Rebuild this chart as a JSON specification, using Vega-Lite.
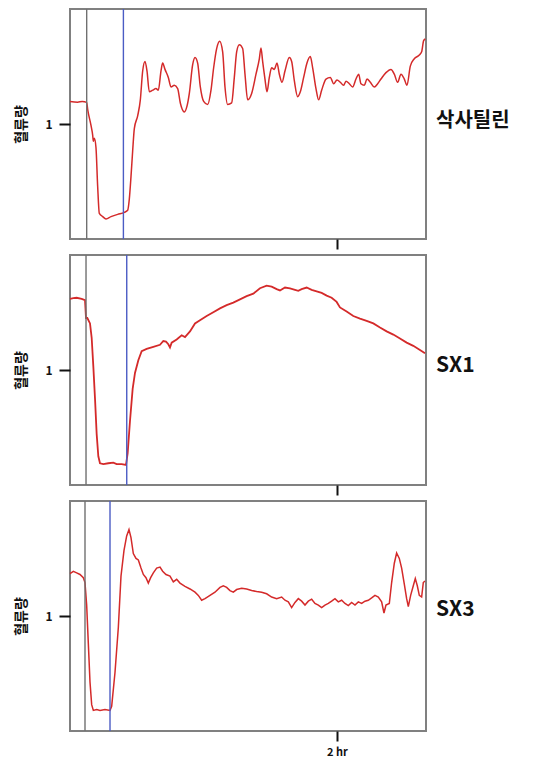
{
  "$schema": "https://vega.github.io/schema/vega-lite/v6.json",
  "background": "white",
  "padding": {"top": 7, "left": 13, "right": 5, "bottom": 5},
  "config": {
    "font": "Noto Sans CJK KR",
    "view": {"stroke": "#808080", "strokeWidth": 2},
    "concat": {"spacing": 2},
    "axis": {"grid": false, "domain": false, "tickColor": "#111111", "tickWidth": 2}
  },
  "vconcat": [
    {
      "width": 356, "height": 230,
      "layer": [
        {
          "data": {"values": [
            {"t":0,"v":1.196},{"t":3.45,"v":1.19},{"t":5.5,"v":1.196},{"t":7.49,"v":1.188},{"t":7.94,"v":1.127},{"t":9.44,"v":0.988},{"t":10.19,"v":0.904},{"t":10.49,"v":0.849},{"t":10.94,"v":0.876},{"t":11.68,"v":0.793},{"t":12.43,"v":0.459},{"t":13.18,"v":0.222},{"t":14.68,"v":0.195},{"t":16.18,"v":0.175},{"t":18.43,"v":0.195},{"t":21.42,"v":0.214},{"t":24.42,"v":0.231},{"t":25.92,"v":0.25},{"t":26.66,"v":0.348},{"t":27.41,"v":0.542},{"t":28.16,"v":0.765},{"t":28.91,"v":0.96},{"t":30.41,"v":1.071},{"t":31.61,"v":1.21},{"t":32.66,"v":1.461},{"t":33.71,"v":1.544},{"t":34.6,"v":1.461},{"t":35.65,"v":1.28},{"t":37.15,"v":1.294},{"t":38.65,"v":1.308},{"t":39.7,"v":1.294},{"t":40.9,"v":1.461},{"t":41.64,"v":1.53},{"t":42.69,"v":1.475},{"t":44.19,"v":1.405},{"t":45.39,"v":1.322},{"t":46.89,"v":1.336},{"t":48.39,"v":1.308},{"t":49.58,"v":1.183},{"t":51.38,"v":1.105},{"t":52.58,"v":1.155},{"t":53.63,"v":1.266},{"t":55.13,"v":1.516},{"t":56.18,"v":1.578},{"t":57.37,"v":1.53},{"t":58.57,"v":1.322},{"t":60.07,"v":1.196},{"t":61.87,"v":1.169},{"t":63.37,"v":1.294},{"t":64.56,"v":1.489},{"t":65.91,"v":1.656},{"t":67.26,"v":1.72},{"t":68.61,"v":1.628},{"t":69.66,"v":1.322},{"t":70.86,"v":1.169},{"t":72.65,"v":1.183},{"t":73.85,"v":1.405},{"t":74.9,"v":1.628},{"t":76.1,"v":1.689},{"t":77.6,"v":1.656},{"t":78.65,"v":1.433},{"t":79.84,"v":1.21},{"t":81.64,"v":1.266},{"t":83.59,"v":1.433},{"t":85.09,"v":1.567},{"t":85.84,"v":1.661},{"t":86.58,"v":1.544},{"t":87.63,"v":1.391},{"t":88.53,"v":1.28},{"t":89.58,"v":1.405},{"t":90.63,"v":1.489},{"t":91.83,"v":1.475},{"t":93.03,"v":1.53},{"t":94.08,"v":1.433},{"t":95.27,"v":1.363},{"t":96.62,"v":1.461},{"t":98.57,"v":1.578},{"t":99.62,"v":1.544},{"t":100.82,"v":1.377},{"t":102.32,"v":1.238},{"t":103.51,"v":1.28},{"t":105.01,"v":1.405},{"t":106.51,"v":1.53},{"t":108.01,"v":1.586},{"t":109.06,"v":1.489},{"t":110.55,"v":1.308},{"t":111.75,"v":1.21},{"t":113.1,"v":1.294},{"t":115.05,"v":1.391},{"t":116.99,"v":1.405},{"t":118.49,"v":1.35},{"t":119.99,"v":1.383},{"t":121.49,"v":1.363},{"t":122.99,"v":1.336},{"t":124.03,"v":1.372},{"t":125.53,"v":1.35},{"t":127.03,"v":1.322},{"t":128.53,"v":1.391},{"t":129.73,"v":1.433},{"t":130.78,"v":1.35},{"t":132.27,"v":1.336},{"t":133.47,"v":1.391},{"t":134.97,"v":1.363},{"t":136.77,"v":1.322},{"t":138.27,"v":1.35},{"t":139.76,"v":1.391},{"t":142.01,"v":1.447},{"t":144.26,"v":1.475},{"t":145.76,"v":1.433},{"t":147.25,"v":1.363},{"t":148.75,"v":1.433},{"t":150.25,"v":1.391},{"t":151.45,"v":1.336},{"t":152.95,"v":1.503},{"t":154.74,"v":1.567},{"t":156.99,"v":1.6},{"t":158.04,"v":1.628},{"t":158.94,"v":1.725},{"t":159.69,"v":1.739}
          ]},
          "mark": {"type": "line", "color": "#d42a2a", "strokeWidth": 1.5, "interpolate": "monotone"},
          "encoding": {
            "x": {"field": "t", "type": "quantitative", "scale": {"domain": [0, 160]}, "axis": {"values": [120], "labels": false, "tickSize": 10, "title": null}},
            "y": {"field": "v", "type": "quantitative", "scale": {"domain": [0, 1.92]}, "axis": {"values": [1], "format": "d", "tickSize": 11, "labelFontSize": 12, "labelFontWeight": "bold", "labelColor": "#111111", "labelPadding": 7, "title": "혈류량", "titleFontSize": 14, "titleFontWeight": "bold", "titleColor": "#111111", "titlePadding": 16}}
          }
        },
        {
          "data": {"values": [{"t": 7.5, "kind": "start"}, {"t": 24.0, "kind": "end"}]},
          "mark": {"type": "rule", "strokeWidth": 1.4},
          "encoding": {
            "x": {"field": "t", "type": "quantitative"},
            "color": {"field": "kind", "type": "nominal", "scale": {"domain": ["start", "end"], "range": ["#707070", "#4b5cc4"]}, "legend": null}
          }
        },
        {
          "data": {"values": [{"label": "삭사틸린"}]},
          "mark": {"type": "text", "align": "left", "baseline": "middle", "dx": 10, "dy": -3, "fontSize": 20, "fontWeight": "bold", "color": "#111111"},
          "encoding": {"x": {"datum": 160}, "y": {"datum": 1}, "text": {"field": "label"}}
        }
      ]
    },
    {
      "width": 356, "height": 230,
      "layer": [
        {
          "data": {"values": [
            {"t":0,"v":1.619},{"t":1.5,"v":1.625},{"t":3.0,"v":1.628},{"t":5.24,"v":1.619},{"t":6.74,"v":1.608},{"t":7.19,"v":1.452},{"t":7.79,"v":1.452},{"t":8.99,"v":1.405},{"t":9.74,"v":1.28},{"t":10.49,"v":1.029},{"t":11.24,"v":0.751},{"t":11.98,"v":0.445},{"t":12.73,"v":0.25},{"t":13.48,"v":0.189},{"t":14.98,"v":0.181},{"t":17.23,"v":0.189},{"t":19.47,"v":0.194},{"t":20.97,"v":0.181},{"t":23.22,"v":0.181},{"t":25.17,"v":0.175},{"t":25.92,"v":0.278},{"t":26.96,"v":0.556},{"t":28.16,"v":0.835},{"t":29.21,"v":0.974},{"t":30.71,"v":1.085},{"t":32.21,"v":1.163},{"t":34.45,"v":1.183},{"t":37.45,"v":1.202},{"t":40.45,"v":1.219},{"t":41.94,"v":1.252},{"t":43.14,"v":1.247},{"t":44.19,"v":1.224},{"t":44.94,"v":1.196},{"t":45.69,"v":1.238},{"t":47.94,"v":1.266},{"t":50.18,"v":1.302},{"t":51.68,"v":1.286},{"t":53.93,"v":1.336},{"t":56.18,"v":1.405},{"t":58.42,"v":1.433},{"t":61.42,"v":1.469},{"t":64.41,"v":1.503},{"t":67.41,"v":1.536},{"t":70.41,"v":1.564},{"t":73.4,"v":1.586},{"t":76.4,"v":1.614},{"t":79.39,"v":1.642},{"t":82.39,"v":1.664},{"t":85.39,"v":1.711},{"t":88.38,"v":1.734},{"t":90.63,"v":1.725},{"t":92.88,"v":1.703},{"t":94.37,"v":1.692},{"t":96.62,"v":1.717},{"t":98.87,"v":1.709},{"t":101.12,"v":1.697},{"t":102.61,"v":1.689},{"t":104.11,"v":1.703},{"t":106.36,"v":1.717},{"t":108.61,"v":1.697},{"t":110.85,"v":1.684},{"t":113.1,"v":1.67},{"t":115.35,"v":1.647},{"t":117.59,"v":1.628},{"t":119.84,"v":1.592},{"t":121.34,"v":1.544},{"t":124.33,"v":1.508},{"t":127.33,"v":1.469},{"t":130.33,"v":1.447},{"t":133.32,"v":1.427},{"t":136.32,"v":1.405},{"t":139.32,"v":1.369},{"t":142.31,"v":1.336},{"t":145.31,"v":1.308},{"t":148.3,"v":1.274},{"t":151.3,"v":1.238},{"t":154.29,"v":1.21},{"t":157.29,"v":1.174},{"t":159.54,"v":1.146}
          ]},
          "mark": {"type": "line", "color": "#d42a2a", "strokeWidth": 1.8},
          "encoding": {
            "x": {"field": "t", "type": "quantitative", "scale": {"domain": [0, 160]}, "axis": {"values": [120], "labels": false, "tickSize": 10, "title": null}},
            "y": {"field": "v", "type": "quantitative", "scale": {"domain": [0, 1.92]}, "axis": {"values": [1], "format": "d", "tickSize": 11, "labelFontSize": 12, "labelFontWeight": "bold", "labelColor": "#111111", "labelPadding": 7, "title": "혈류량", "titleFontSize": 14, "titleFontWeight": "bold", "titleColor": "#111111", "titlePadding": 16}}
          }
        },
        {
          "data": {"values": [{"t": 7.2, "kind": "start"}, {"t": 25.5, "kind": "end"}]},
          "mark": {"type": "rule", "strokeWidth": 1.4},
          "encoding": {
            "x": {"field": "t", "type": "quantitative"},
            "color": {"field": "kind", "type": "nominal", "scale": {"domain": ["start", "end"], "range": ["#707070", "#4b5cc4"]}, "legend": null}
          }
        },
        {
          "data": {"values": [{"label": "SX1"}]},
          "mark": {"type": "text", "align": "left", "baseline": "middle", "dx": 10, "dy": -4, "fontSize": 21, "fontWeight": "bold", "color": "#111111"},
          "encoding": {"x": {"datum": 160}, "y": {"datum": 1}, "text": {"field": "label"}}
        }
      ]
    },
    {
      "width": 356, "height": 230,
      "layer": [
        {
          "data": {"values": [
            {"t":0,"v":1.369},{"t":1.5,"v":1.389},{"t":3.0,"v":1.375},{"t":4.49,"v":1.361},{"t":5.99,"v":1.333},{"t":6.74,"v":1.291},{"t":7.49,"v":1.095},{"t":8.24,"v":0.76},{"t":8.99,"v":0.425},{"t":9.74,"v":0.229},{"t":10.49,"v":0.179},{"t":11.98,"v":0.187},{"t":13.48,"v":0.179},{"t":15.73,"v":0.187},{"t":17.98,"v":0.179},{"t":18.73,"v":0.215},{"t":20.22,"v":0.509},{"t":21.72,"v":0.9},{"t":22.92,"v":1.347},{"t":24.27,"v":1.571},{"t":25.47,"v":1.696},{"t":26.51,"v":1.752},{"t":27.41,"v":1.682},{"t":28.46,"v":1.543},{"t":29.66,"v":1.501},{"t":30.71,"v":1.487},{"t":31.91,"v":1.417},{"t":32.96,"v":1.361},{"t":34.15,"v":1.333},{"t":35.2,"v":1.286},{"t":36.25,"v":1.333},{"t":37.45,"v":1.375},{"t":38.95,"v":1.417},{"t":40.45,"v":1.425},{"t":41.64,"v":1.389},{"t":43.14,"v":1.361},{"t":44.94,"v":1.347},{"t":46.44,"v":1.297},{"t":47.94,"v":1.319},{"t":49.43,"v":1.286},{"t":51.68,"v":1.258},{"t":53.93,"v":1.235},{"t":56.18,"v":1.207},{"t":57.67,"v":1.179},{"t":59.17,"v":1.137},{"t":60.67,"v":1.151},{"t":62.92,"v":1.179},{"t":65.16,"v":1.207},{"t":67.41,"v":1.249},{"t":68.91,"v":1.263},{"t":70.41,"v":1.249},{"t":71.9,"v":1.221},{"t":73.4,"v":1.207},{"t":74.9,"v":1.23},{"t":77.15,"v":1.241},{"t":79.39,"v":1.235},{"t":81.64,"v":1.221},{"t":83.89,"v":1.213},{"t":86.14,"v":1.207},{"t":88.38,"v":1.193},{"t":90.63,"v":1.165},{"t":92.88,"v":1.151},{"t":95.12,"v":1.165},{"t":96.62,"v":1.137},{"t":98.12,"v":1.123},{"t":99.62,"v":1.073},{"t":101.12,"v":1.118},{"t":102.61,"v":1.151},{"t":104.11,"v":1.129},{"t":105.61,"v":1.095},{"t":107.11,"v":1.129},{"t":108.61,"v":1.146},{"t":110.1,"v":1.109},{"t":111.6,"v":1.095},{"t":113.1,"v":1.073},{"t":114.6,"v":1.095},{"t":116.1,"v":1.109},{"t":117.59,"v":1.129},{"t":119.09,"v":1.151},{"t":120.59,"v":1.123},{"t":122.09,"v":1.137},{"t":123.59,"v":1.109},{"t":125.08,"v":1.09},{"t":126.58,"v":1.118},{"t":128.08,"v":1.095},{"t":129.58,"v":1.123},{"t":131.08,"v":1.109},{"t":132.57,"v":1.129},{"t":134.07,"v":1.137},{"t":135.57,"v":1.157},{"t":137.07,"v":1.179},{"t":138.57,"v":1.165},{"t":140.06,"v":1.123},{"t":141.11,"v":1.026},{"t":142.01,"v":1.095},{"t":143.51,"v":1.109},{"t":144.56,"v":1.291},{"t":145.76,"v":1.459},{"t":146.8,"v":1.548},{"t":148.0,"v":1.501},{"t":149.05,"v":1.417},{"t":150.25,"v":1.277},{"t":151.3,"v":1.151},{"t":152.05,"v":1.081},{"t":153.1,"v":1.179},{"t":154.29,"v":1.263},{"t":155.19,"v":1.325},{"t":156.09,"v":1.263},{"t":156.99,"v":1.179},{"t":158.04,"v":1.165},{"t":158.79,"v":1.291},{"t":159.54,"v":1.305}
          ]},
          "mark": {"type": "line", "color": "#d42a2a", "strokeWidth": 1.5},
          "encoding": {
            "x": {"field": "t", "type": "quantitative", "scale": {"domain": [0, 160]}, "axis": {"values": [120], "labelExpr": "'2 hr'", "labelFontSize": 11, "labelFontWeight": "bold", "labelColor": "#111111", "labelPadding": 5, "tickSize": 10, "title": null}},
            "y": {"field": "v", "type": "quantitative", "scale": {"domain": [0, 1.92]}, "axis": {"values": [1], "format": "d", "tickSize": 11, "labelFontSize": 12, "labelFontWeight": "bold", "labelColor": "#111111", "labelPadding": 7, "title": "혈류량", "titleFontSize": 14, "titleFontWeight": "bold", "titleColor": "#111111", "titlePadding": 16}}
          }
        },
        {
          "data": {"values": [{"t": 6.74, "kind": "start"}, {"t": 17.98, "kind": "end"}]},
          "mark": {"type": "rule", "strokeWidth": 1.4},
          "encoding": {
            "x": {"field": "t", "type": "quantitative"},
            "color": {"field": "kind", "type": "nominal", "scale": {"domain": ["start", "end"], "range": ["#707070", "#4b5cc4"]}, "legend": null}
          }
        },
        {
          "data": {"values": [{"label": "SX3"}]},
          "mark": {"type": "text", "align": "left", "baseline": "middle", "dx": 10, "dy": -6, "fontSize": 21, "fontWeight": "bold", "color": "#111111"},
          "encoding": {"x": {"datum": 160}, "y": {"datum": 1}, "text": {"field": "label"}}
        }
      ]
    }
  ]
}
